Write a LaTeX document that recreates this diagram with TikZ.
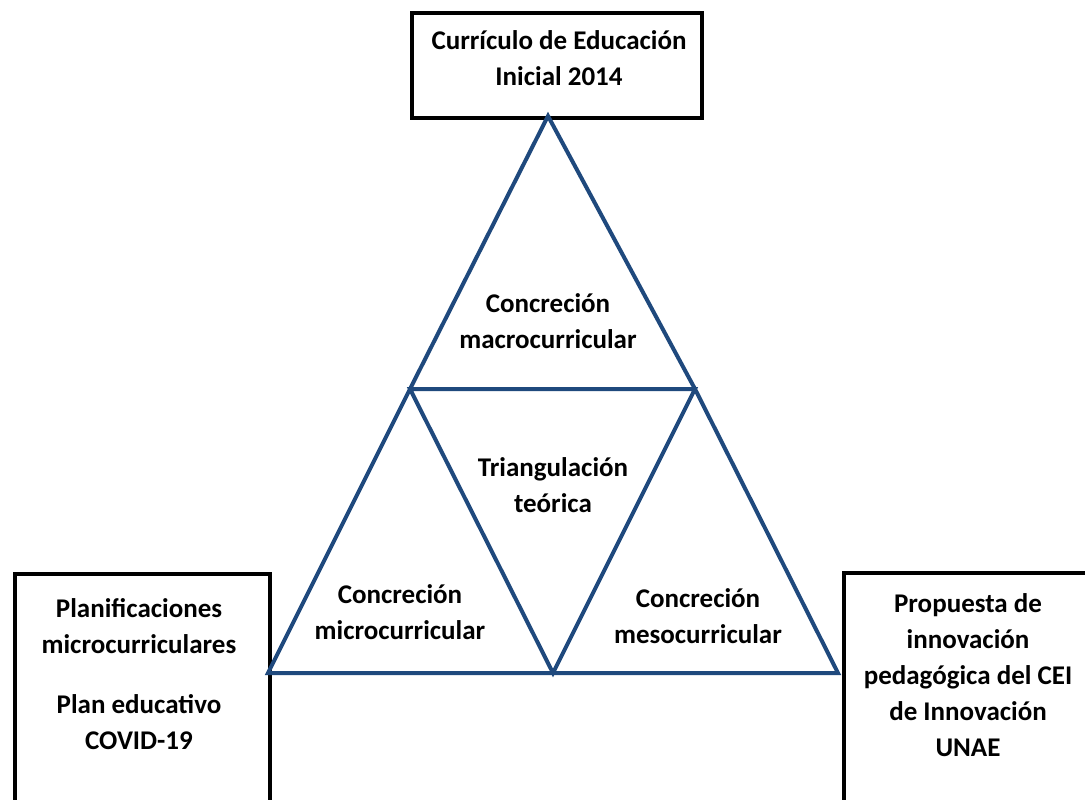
\documentclass[tikz,border=0pt]{standalone}
\usepackage{fontspec}
\setmainfont{Carlito}
\definecolor{triblue}{HTML}{1F497D}
\begin{document}
\begin{tikzpicture}[x=1pt,y=-1pt,
  box/.style={draw=black,line width=4pt,fill=white,inner sep=0pt},
  lbl/.style={font=\bfseries\fontsize{27}{36}\selectfont,align=center,inner sep=0pt},
  tri/.style={draw=triblue,line width=4pt,line join=miter}]
\useasboundingbox (0,0) rectangle (1085,800);
\clip (0,0) rectangle (1085,800);
% boxes
\node[box,anchor=north west,minimum width=290pt,minimum height=105pt] (top) at (410,11) {};
\node[box,anchor=north west,minimum width=255pt,minimum height=260pt] (left) at (13,572) {};
\node[box,anchor=north west,minimum width=260pt,minimum height=260pt] (right) at (842,571) {};
% triangle vertices
\coordinate (A) at (548,116);
\coordinate (B) at (268,673);
\coordinate (C) at (838,673);
\coordinate (M1) at (410,389);
\coordinate (M2) at (695,389);
\coordinate (M3) at (553,673);
\draw[tri] (A) -- (M1) -- (B) -- (M3) -- (C) -- (M2) -- cycle;
\draw[tri] (M1) -- (M2) -- (M3) -- cycle;
% labels
\node[lbl] (t1) at (559,58) {Currículo de Educación\\Inicial 2014};
\node[lbl] (t2) at (548,321) {Concreción\\macrocurricular};
\node[lbl] (t3) at (553,485) {Triangulación\\teórica};
\node[lbl] (t4) at (400,612) {Concreción\\microcurricular};
\node[lbl] (t5) at (698,616) {Concreción\\mesocurricular};
\node[lbl] (t6) at (139,626) {Planificaciones\\microcurriculares};
\node[lbl] (t7) at (139,722) {Plan educativo\\COVID-19};
\node[lbl] (t8) at (968,675) {Propuesta de\\innovación\\pedagógica del CEI\\de Innovación\\UNAE};
\end{tikzpicture}
\end{document}
